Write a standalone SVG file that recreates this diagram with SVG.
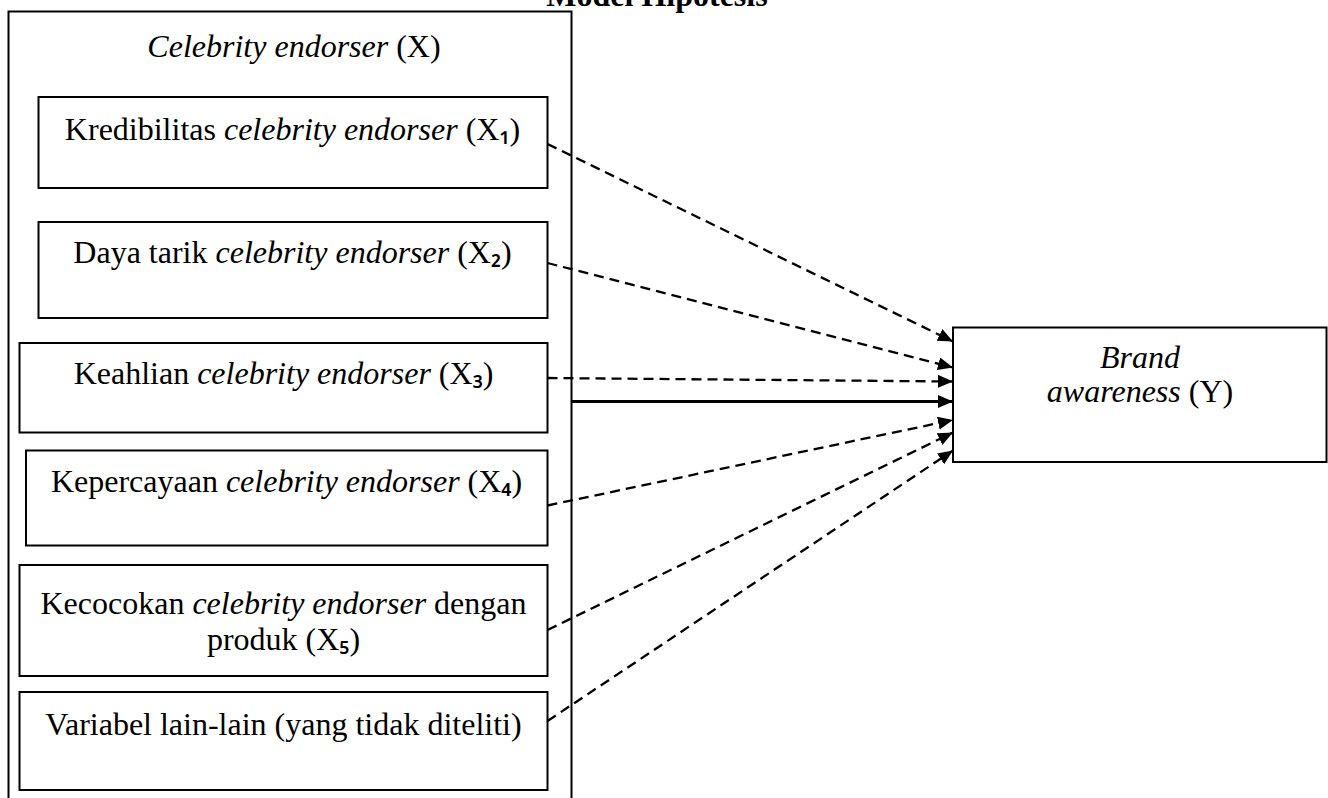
<svg xmlns="http://www.w3.org/2000/svg" width="1328" height="798" viewBox="0 0 1328 798">
  <style>
    .t { font-family: "Liberation Serif", "Times New Roman", serif; font-size: 32px; fill: #000; text-anchor: middle; }
    .i { font-style: italic; }
    .sub { font-family: "Noto Sans", "DejaVu Sans", sans-serif; font-size: 28px; font-weight: 500; }
    .box { fill: #fff; stroke: #000; stroke-width: 2; }
    .dash { fill: none; stroke: #000; stroke-width: 2.3; stroke-dasharray: 10 6; marker-end: url(#ah); }
    .solid { fill: none; stroke: #000; stroke-width: 3; marker-end: url(#ah); }
  </style>
  <defs>
    <marker id="ah" markerUnits="userSpaceOnUse" markerWidth="16" markerHeight="14" refX="15" refY="6.5" orient="auto">
      <path d="M0,0 L15,6.5 L0,13 z" fill="#000"/>
    </marker>
  </defs>
  <rect width="1328" height="798" fill="#fff"/>

  <text class="t" x="657" y="6" font-weight="bold">Model Hipotesis</text>

  <g id="group-x">
    <rect class="box" x="8.5" y="11.5" width="563" height="820"/>
    <text class="t" x="294" y="57"><tspan class="i">Celebrity endorser</tspan> (X)</text>
  </g>

  <g id="x1">
    <rect class="box" x="38.5" y="97" width="509" height="91"/>
    <text class="t" x="292.5" y="140">Kredibilitas <tspan class="i">celebrity endorser</tspan> (X<tspan class="sub">₁</tspan>)</text>
  </g>
  <g id="x2">
    <rect class="box" x="38.5" y="222" width="509" height="96"/>
    <text class="t" x="292.5" y="263">Daya tarik <tspan class="i">celebrity endorser</tspan> (X<tspan class="sub">₂</tspan>)</text>
  </g>
  <g id="x3">
    <rect class="box" x="19.5" y="343" width="528" height="89.5"/>
    <text class="t" x="283.5" y="384">Keahlian <tspan class="i">celebrity endorser</tspan> (X<tspan class="sub">₃</tspan>)</text>
  </g>
  <g id="x4">
    <rect class="box" x="26" y="450.5" width="521.5" height="95"/>
    <text class="t" x="286.5" y="492">Kepercayaan <tspan class="i">celebrity endorser</tspan> (X<tspan class="sub">₄</tspan>)</text>
  </g>
  <g id="x5">
    <rect class="box" x="19.5" y="565" width="528" height="111"/>
    <text class="t" x="283.5" y="614">Kecocokan <tspan class="i">celebrity endorser</tspan> dengan</text>
    <text class="t" x="283.5" y="650">produk (X<tspan class="sub">₅</tspan>)</text>
  </g>
  <g id="x6">
    <rect class="box" x="19.5" y="692" width="528" height="98"/>
    <text class="t" x="283.5" y="735">Variabel lain-lain (yang tidak diteliti)</text>
  </g>

  <g id="y">
    <rect class="box" x="953" y="327.5" width="373.5" height="134.5"/>
    <text class="t i" x="1140" y="368">Brand</text>
    <text class="t" x="1140" y="402"><tspan class="i">awareness</tspan> (Y)</text>
  </g>

  <g id="connectors">
    <line class="dash" x1="547.5" y1="144" x2="953" y2="341.5"/>
    <line class="dash" x1="547.5" y1="263" x2="953" y2="367.5"/>
    <line class="dash" x1="547.5" y1="378" x2="953" y2="381.5"/>
    <line class="solid" x1="572" y1="401.5" x2="953" y2="401.5"/>
    <line class="dash" x1="547.5" y1="505.5" x2="953" y2="420"/>
    <line class="dash" x1="547.5" y1="630" x2="953" y2="432.5"/>
    <line class="dash" x1="547.5" y1="721" x2="953" y2="450.5"/>
  </g>
</svg>
